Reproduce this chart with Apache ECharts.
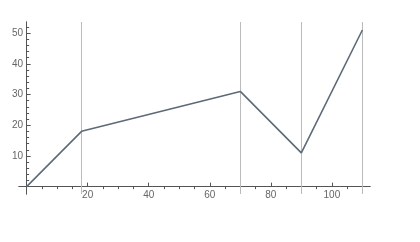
<!DOCTYPE html>
<html>
<head>
<meta charset="utf-8">
<script src="https://cdn.jsdelivr.net/npm/echarts@6/dist/echarts.min.js"></script>
<style>html,body{margin:0;padding:0;background:#fff;}#c{width:420px;height:242px;}</style>
</head>
<body>
<div id="c"></div>
<script>
const xValues = [0, 18, 70, 90, 110];
const yValues = [0, 18, 31, 11, 51];
const gridLinesX = [18, 70, 90, 110];
const xMajorTicks = [20, 40, 60, 80, 100];
const xMinorTicks = [5, 10, 15, 25, 30, 35, 45, 50, 55, 65, 70, 75, 85, 90, 95, 105, 110];
const yMajorTicks = [10, 20, 30, 40, 50];
const yMinorTicks = [2, 4, 6, 8, 12, 14, 16, 18, 22, 24, 26, 28, 32, 34, 36, 38, 42, 44, 46, 48, 52];

const axisColor = '#555';
const labelStyle = { color: '#666', fontSize: 10, fontFamily: 'Liberation Sans, Arial, sans-serif' };
const xRange = { min: -2.5, max: 112.5 };
const yRange = { min: -2.4, max: 53.6 };

function xAxisDef(ticks, labels, len) {
  return Object.assign({
    type: 'value',
    axisLine: { show: true, onZero: true, onZeroAxisIndex: 0, lineStyle: { color: axisColor, width: 1 } },
    axisTick: { show: true, inside: true, length: len, customValues: ticks, lineStyle: { color: axisColor } },
    axisLabel: labels ? Object.assign({ show: true, margin: -4, customValues: labels }, labelStyle) : { show: false },
    splitLine: { show: false }
  }, xRange);
}
function yAxisDef(ticks, labels, len) {
  return Object.assign({
    type: 'value',
    position: 'left',
    axisLine: { show: true, onZero: true, onZeroAxisIndex: 0, lineStyle: { color: axisColor, width: 1 } },
    axisTick: { show: true, inside: true, length: len, customValues: ticks, lineStyle: { color: axisColor } },
    axisLabel: labels ? Object.assign({ show: true, margin: -4, customValues: labels }, labelStyle) : { show: false },
    splitLine: { show: false }
  }, yRange);
}

const chart = echarts.init(document.getElementById('c'), null, { renderer: 'canvas' });
chart.setOption({
  animation: false,
  grid: { left: 19, top: 22, width: 351, height: 172, containLabel: false },
  xAxis: [xAxisDef(xMajorTicks, xMajorTicks, 4), xAxisDef(xMinorTicks, null, 2.5)],
  yAxis: [yAxisDef(yMajorTicks, yMajorTicks, 4), yAxisDef(yMinorTicks, null, 2.5)],
  series: [{
    type: 'line',
    xAxisIndex: 0,
    yAxisIndex: 0,
    data: xValues.map((x, i) => [x, yValues[i]]),
    showSymbol: false,
    lineStyle: { color: '#5E6A78', width: 1.6 },
    itemStyle: { color: '#5E6A78' },
    z: 5,
    markLine: {
      silent: true,
      symbol: 'none',
      label: { show: false },
      lineStyle: { color: '#bbbbbb', width: 1, type: 'solid' },
      z: 1,
      data: gridLinesX.map(v => ({ xAxis: v }))
    }
  }]
});
</script>
</body>
</html>
